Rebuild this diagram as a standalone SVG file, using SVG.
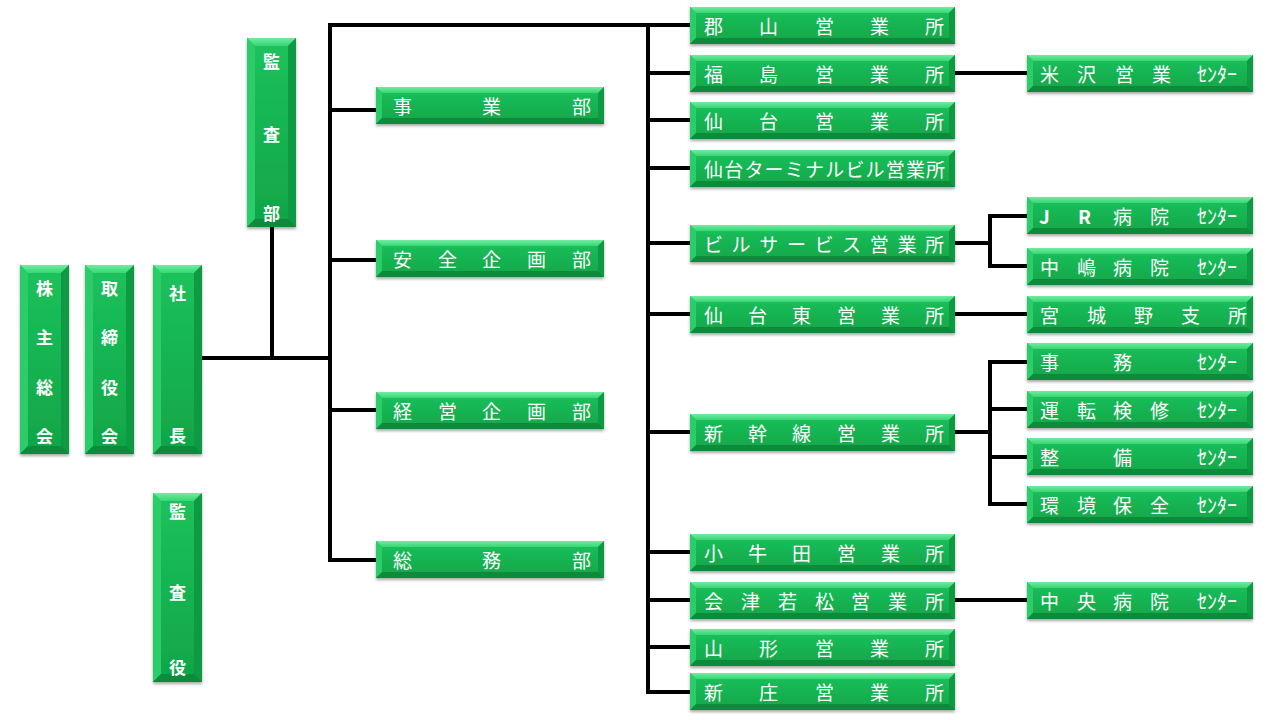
<svg xmlns="http://www.w3.org/2000/svg" xmlns:xlink="http://www.w3.org/1999/xlink" width="1280" height="720" viewBox="0 0 1280 720">
<defs>
<style>
.face{fill:url(#gFace)}
.bt{fill:url(#gTop)}
.bl{fill:#2ccd6a}
.br{fill:#0d9a43}
.bb{fill:#0a8a3a}
.t{font-family:"Noto Sans CJK JP","Noto Sans",sans-serif;font-size:19px;fill:#ffffff}
.v{font-family:"Noto Sans CJK JP","Noto Sans",sans-serif;font-size:17px;font-weight:bold;fill:#ffffff;text-anchor:middle}
.b{font-weight:bold}
.hw{font-size:20px}
.ln{fill:none;stroke:#000;stroke-width:4;stroke-linecap:square;stroke-linejoin:miter}
</style>
<linearGradient id="gFace" x1="0" y1="0" x2="0" y2="1">
<stop offset="0" stop-color="#1cc25c"/>
<stop offset="1" stop-color="#10a548"/>
</linearGradient>
<linearGradient id="gTop" x1="0" y1="0" x2="0" y2="1">
<stop offset="0" stop-color="#72eba0"/>
<stop offset="1" stop-color="#36d676"/>
</linearGradient>
<filter id="sh" x="-10%" y="-10%" width="120%" height="130%">
<feDropShadow dx="0" dy="2" stdDeviation="1.5" flood-color="#000" flood-opacity="0.35"/>
</filter>
<g id="bx-o">
<rect width="265" height="37" class="face"/>
<polygon class="bt" points="0,0 265,0 259,6 6,6"/>
<polygon class="bl" points="0,0 6,6 6,31 0,37"/>
<polygon class="br" points="265,0 265,37 259,31 259,6"/>
<polygon class="bb" points="0,37 6,31 259,31 265,37"/>
</g>
<g id="bx-d">
<rect width="228" height="37" class="face"/>
<polygon class="bt" points="0,0 228,0 222,6 6,6"/>
<polygon class="bl" points="0,0 6,6 6,31 0,37"/>
<polygon class="br" points="228,0 228,37 222,31 222,6"/>
<polygon class="bb" points="0,37 6,31 222,31 228,37"/>
</g>
<g id="bx-r">
<rect width="226" height="37" class="face"/>
<polygon class="bt" points="0,0 226,0 220,6 6,6"/>
<polygon class="bl" points="0,0 6,6 6,31 0,37"/>
<polygon class="br" points="226,0 226,37 220,31 220,6"/>
<polygon class="bb" points="0,37 6,31 220,31 226,37"/>
</g>
<g id="bx-v">
<rect width="49" height="189" class="face"/>
<polygon class="bt" points="0,0 49,0 41,8 8,8"/>
<polygon class="bl" points="0,0 8,8 8,181 0,189"/>
<polygon class="br" points="49,0 49,189 41,181 41,8"/>
<polygon class="bb" points="0,189 8,181 41,181 49,189"/>
</g>
</defs>
<rect width="1280" height="720" fill="#ffffff"/>

<g id="connectors">
<path class="ln" d="M202,358 H330 M272,227 V358 M690,25 H330 V560 H376 M330,110 H376 M330,260 H376 M330,410 H376"/>
<path class="ln" d="M690,692 H648 V25 M648,73 H690 M648,120 H690 M648,168 H690 M648,243 H690 M648,314 H690 M648,432 H690 M648,552 H690 M648,600 H690 M648,647 H690"/>
<path class="ln" d="M955,73 H1027 M955,314 H1027 M955,600 H1027"/>
<path class="ln" d="M955,243 H990 M1027,216 H990 V266 H1027"/>
<path class="ln" d="M955,432 H990 M1027,362 H990 V504 H1027 M990,409 H1027 M990,457 H1027"/>
</g>

<g id="kabunushi-sokai"><use xlink:href="#bx-v" href="#bx-v" x="20" y="265" filter="url(#sh)"/>
<text class="v" x="44.5" y="295">株</text><text class="v" x="44.5" y="344">主</text><text class="v" x="44.5" y="394">総</text><text class="v" x="44.5" y="443">会</text></g>
<g id="torishimariyakukai"><use xlink:href="#bx-v" href="#bx-v" x="85" y="265" filter="url(#sh)"/>
<text class="v" x="109.5" y="295">取</text><text class="v" x="109.5" y="344">締</text><text class="v" x="109.5" y="394">役</text><text class="v" x="109.5" y="443">会</text></g>
<g id="shacho"><use xlink:href="#bx-v" href="#bx-v" x="153" y="265" filter="url(#sh)"/>
<text class="v" x="177.5" y="300">社</text><text class="v" x="177.5" y="442">長</text></g>
<g id="kansayaku"><use xlink:href="#bx-v" href="#bx-v" x="153" y="493" filter="url(#sh)"/>
<text class="v" x="177.5" y="518">監</text><text class="v" x="177.5" y="599">査</text><text class="v" x="177.5" y="674">役</text></g>
<g id="kansabu"><use xlink:href="#bx-v" href="#bx-v" x="247" y="38" filter="url(#sh)"/>
<text class="v" x="271.5" y="68">監</text><text class="v" x="271.5" y="141">査</text><text class="v" x="271.5" y="220">部</text></g>

<g id="jigyobu"><use xlink:href="#bx-d" href="#bx-d" x="376" y="87" filter="url(#sh)"/>
<text class="t" x="393 482 572" y="113.5">事業部</text></g>
<g id="anzen-kikakubu"><use xlink:href="#bx-d" href="#bx-d" x="376" y="240" filter="url(#sh)"/>
<text class="t" x="393 438 482 527 572" y="266.5">安全企画部</text></g>
<g id="keiei-kikakubu"><use xlink:href="#bx-d" href="#bx-d" x="376" y="392" filter="url(#sh)"/>
<text class="t" x="393 438 482 527 572" y="418.5">経営企画部</text></g>
<g id="somubu"><use xlink:href="#bx-d" href="#bx-d" x="376" y="541" filter="url(#sh)"/>
<text class="t" x="393 482 572" y="567.5">総務部</text></g>

<g id="koriyama"><use xlink:href="#bx-o" href="#bx-o" x="690" y="7" filter="url(#sh)"/>
<text class="t" x="704 759 815 870 925" y="33.5">郡山営業所</text></g>
<g id="fukushima"><use xlink:href="#bx-o" href="#bx-o" x="690" y="55" filter="url(#sh)"/>
<text class="t" x="704 759 815 870 925" y="81.5">福島営業所</text></g>
<g id="sendai"><use xlink:href="#bx-o" href="#bx-o" x="690" y="102" filter="url(#sh)"/>
<text class="t" x="704 759 815 870 925" y="128.5">仙台営業所</text></g>
<g id="sendai-terminal"><use xlink:href="#bx-o" href="#bx-o" x="690" y="150" filter="url(#sh)"/>
<text class="t" x="704 724.2 744.4 764.6 784.8 805 825.2 845.4 865.6 885.8 906 926" y="176.5">仙台ターミナルビル営業所</text></g>
<g id="building-service"><use xlink:href="#bx-o" href="#bx-o" x="690" y="225" filter="url(#sh)"/>
<text class="t" x="704 731.6 759.3 786.9 814.5 842.1 869.8 897.4 925" y="251.5">ビルサービス営業所</text></g>
<g id="sendai-higashi"><use xlink:href="#bx-o" href="#bx-o" x="690" y="296" filter="url(#sh)"/>
<text class="t" x="704 748 792 837 881 925" y="322.5">仙台東営業所</text></g>
<g id="shinkansen"><use xlink:href="#bx-o" href="#bx-o" x="690" y="414" filter="url(#sh)"/>
<text class="t" x="704 748 792 837 881 925" y="440.5">新幹線営業所</text></g>
<g id="kogota"><use xlink:href="#bx-o" href="#bx-o" x="690" y="534" filter="url(#sh)"/>
<text class="t" x="704 748 792 837 881 925" y="560.5">小牛田営業所</text></g>
<g id="aizuwakamatsu"><use xlink:href="#bx-o" href="#bx-o" x="690" y="582" filter="url(#sh)"/>
<text class="t" x="704 741 778 815 851 888 925" y="608.5">会津若松営業所</text></g>
<g id="yamagata"><use xlink:href="#bx-o" href="#bx-o" x="690" y="629" filter="url(#sh)"/>
<text class="t" x="704 759 815 870 925" y="655.5">山形営業所</text></g>
<g id="shinjo"><use xlink:href="#bx-o" href="#bx-o" x="690" y="673" filter="url(#sh)"/>
<text class="t" x="704 759 815 870 925" y="699.5">新庄営業所</text></g>

<g id="yonezawa"><use xlink:href="#bx-r" href="#bx-r" x="1027" y="55" filter="url(#sh)"/>
<text class="t" y="81.5"><tspan x="1040 1077 1115 1152">米沢営業</tspan><tspan class="hw" x="1197">ｾﾝﾀｰ</tspan></text></g>
<g id="jr-byoin"><use xlink:href="#bx-r" href="#bx-r" x="1027" y="197" filter="url(#sh)"/>
<text class="t" y="223.5"><tspan class="b" x="1039">J</tspan><tspan class="b" x="1078">R</tspan><tspan x="1113">病</tspan><tspan x="1150">院</tspan><tspan class="hw" x="1197">ｾﾝﾀｰ</tspan></text></g>
<g id="nakajima-byoin"><use xlink:href="#bx-r" href="#bx-r" x="1027" y="248" filter="url(#sh)"/>
<text class="t" y="274.5"><tspan x="1040 1077 1113 1150">中嶋病院</tspan><tspan class="hw" x="1197">ｾﾝﾀｰ</tspan></text></g>
<g id="miyagino"><use xlink:href="#bx-r" href="#bx-r" x="1027" y="296" filter="url(#sh)"/>
<text class="t" x="1040 1087 1134 1181 1228" y="322.5">宮城野支所</text></g>
<g id="jimu"><use xlink:href="#bx-r" href="#bx-r" x="1027" y="343" filter="url(#sh)"/>
<text class="t" y="369.5"><tspan x="1040 1113">事務</tspan><tspan class="hw" x="1197">ｾﾝﾀｰ</tspan></text></g>
<g id="unten-kenshu"><use xlink:href="#bx-r" href="#bx-r" x="1027" y="391" filter="url(#sh)"/>
<text class="t" y="417.5"><tspan x="1040 1077 1113 1150">運転検修</tspan><tspan class="hw" x="1197">ｾﾝﾀｰ</tspan></text></g>
<g id="seibi"><use xlink:href="#bx-r" href="#bx-r" x="1027" y="438" filter="url(#sh)"/>
<text class="t" y="464.5"><tspan x="1040 1113">整備</tspan><tspan class="hw" x="1197">ｾﾝﾀｰ</tspan></text></g>
<g id="kankyo-hozen"><use xlink:href="#bx-r" href="#bx-r" x="1027" y="486" filter="url(#sh)"/>
<text class="t" y="512.5"><tspan x="1040 1077 1113 1150">環境保全</tspan><tspan class="hw" x="1197">ｾﾝﾀｰ</tspan></text></g>
<g id="chuo-byoin"><use xlink:href="#bx-r" href="#bx-r" x="1027" y="582" filter="url(#sh)"/>
<text class="t" y="608.5"><tspan x="1040 1077 1113 1150">中央病院</tspan><tspan class="hw" x="1197">ｾﾝﾀｰ</tspan></text></g>
</svg>
